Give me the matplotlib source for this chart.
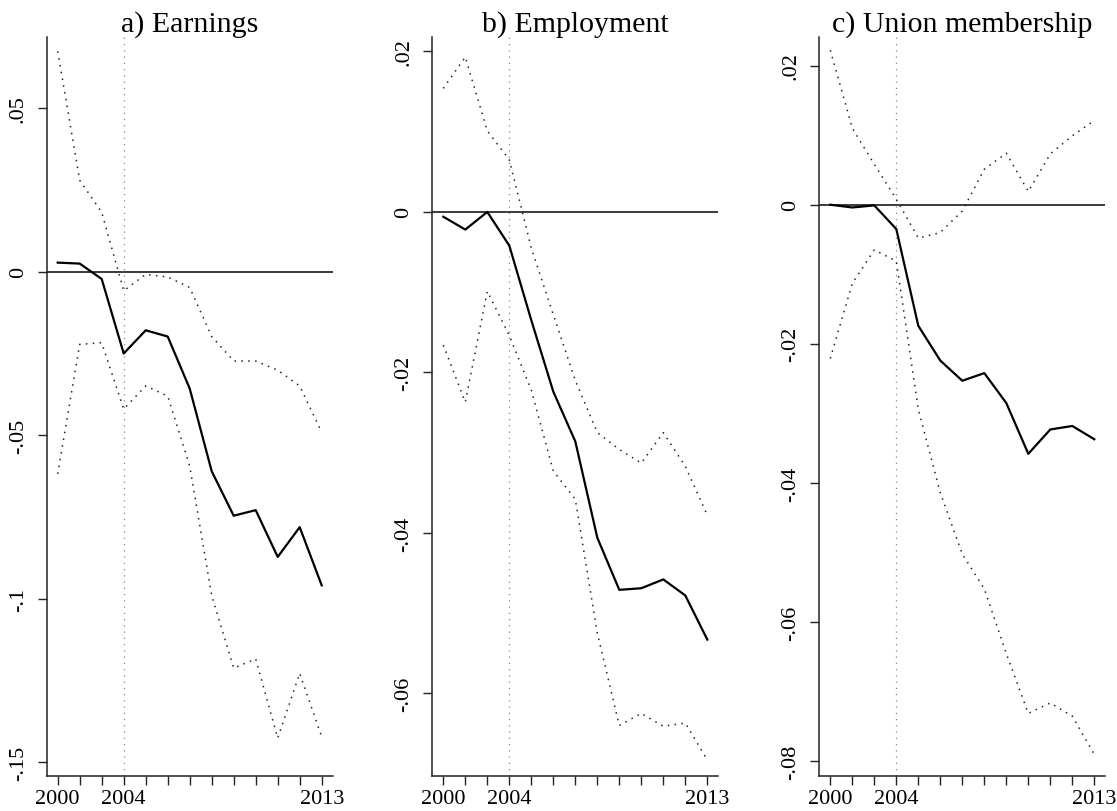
import matplotlib
matplotlib.use("Agg")
import matplotlib.pyplot as plt

plt.rcParams['font.family'] = ['Liberation Serif', 'DejaVu Serif']

# survey years (2003 not in the sample)
years = [2000, 2001, 2002, 2004, 2005, 2006, 2007, 2008, 2009, 2010, 2011, 2012, 2013]
labelled_years = [2000, 2004, 2013]
event_year = 2004

# a) Earnings
earn_est = [0.0028, 0.0025, -0.0022, -0.0250, -0.0179, -0.0198, -0.0357,
            -0.0610, -0.0746, -0.0729, -0.0872, -0.0781, -0.0959]
earn_hi = [0.0674, 0.0280, 0.0182, -0.0058, -0.0008, -0.0016, -0.0048,
           -0.0198, -0.0273, -0.0273, -0.0301, -0.0349, -0.0491]
earn_lo = [-0.0618, -0.0222, -0.0217, -0.0420, -0.0349, -0.0380, -0.0594,
           -0.0990, -0.1212, -0.1184, -0.1426, -0.1228, -0.1422]

# b) Employment
emp_est = [-0.0006, -0.0022, 0.0000, -0.0042, -0.0135, -0.0224, -0.0286,
           -0.0406, -0.0471, -0.0469, -0.0458, -0.0478, -0.0533]
emp_hi = [0.0154, 0.0193, 0.0101, 0.0065, -0.0045, -0.0128, -0.0210,
          -0.0275, -0.0296, -0.0313, -0.0275, -0.0317, -0.0378]
emp_lo = [-0.0166, -0.0237, -0.0099, -0.0154, -0.0222, -0.0323, -0.0358,
          -0.0525, -0.0640, -0.0625, -0.0641, -0.0637, -0.0683]

# c) Union membership
union_est = [0.0000, -0.0004, -0.0001, -0.0035, -0.0174, -0.0224, -0.0253,
             -0.0242, -0.0285, -0.0358, -0.0323, -0.0318, -0.0337]
union_hi = [0.0222, 0.0110, 0.0058, 0.0008, -0.0048, -0.0040, -0.0009,
            0.0051, 0.0074, 0.0019, 0.0073, 0.0099, 0.0121]
union_lo = [-0.0221, -0.0113, -0.0065, -0.0081, -0.0294, -0.0414, -0.0502,
            -0.0552, -0.0645, -0.0731, -0.0716, -0.0735, -0.0790]

titles = ['a) Earnings', 'b) Employment', 'c) Union membership']
yticks = [[0.05, 0, -0.05, -0.1, -0.15],
          [0.02, 0, -0.02, -0.04, -0.06],
          [0.02, 0, -0.02, -0.04, -0.06, -0.08]]
ytick_labels = [['.05', '0', '-.05', '-.1', '-.15'],
                ['.02', '0', '-.02', '-.04', '-.06'],
                ['.02', '0', '-.02', '-.04', '-.06', '-.08']]
ylims = [(-0.1542, 0.0718), (-0.0703, 0.0218), (-0.0821, 0.0241)]
series = [(earn_est, earn_hi, earn_lo),
          (emp_est, emp_hi, emp_lo),
          (union_est, union_hi, union_lo)]
lefts = [46.7, 432.3, 819.3]

W, H = 1117, 812
fig = plt.figure(figsize=(W / 100, H / 100), dpi=100)

pos = list(range(len(years)))
for k in range(3):
    ax = fig.add_axes([lefts[k] / W, 35 / H, 286 / W, 739 / H])
    est, hi, lo = series[k]
    ax.axhline(0, color='#1a1a1a', lw=1.2, zorder=2)
    ax.axvline(years.index(event_year), color='#888888', lw=0.9,
                linestyle=(0, (1, 4)), zorder=1)
    ax.plot(pos, hi, color='#222222', lw=1.1, linestyle=(0, (1, 3.5)), zorder=3)
    ax.plot(pos, lo, color='#222222', lw=1.1, linestyle=(0, (1, 3.5)), zorder=3)
    ax.plot(pos, est, color='black', lw=1.6, zorder=4)

    ax.set_xlim(-0.5, 12.5)
    ax.set_ylim(*ylims[k])
    ax.set_xticks(pos)
    ax.set_xticklabels([str(y) if y in labelled_years else '' for y in years])
    ax.set_yticks(yticks[k])
    ax.set_yticklabels(ytick_labels[k], rotation=90, va='center')
    ax.tick_params(axis='both', direction='out', length=6.5, width=1.0,
                   labelsize=16, color='#222222')
    ax.tick_params(axis='y', pad=7)
    ax.tick_params(axis='x', pad=3)
    for side in ['top', 'right']:
        ax.spines[side].set_visible(False)
    for side in ['left', 'bottom']:
        ax.spines[side].set_linewidth(1.1)
        ax.spines[side].set_color('#222222')
    ax.set_title(titles[k], fontsize=21.5, pad=4)

fig.savefig('out.png', dpi=100)
